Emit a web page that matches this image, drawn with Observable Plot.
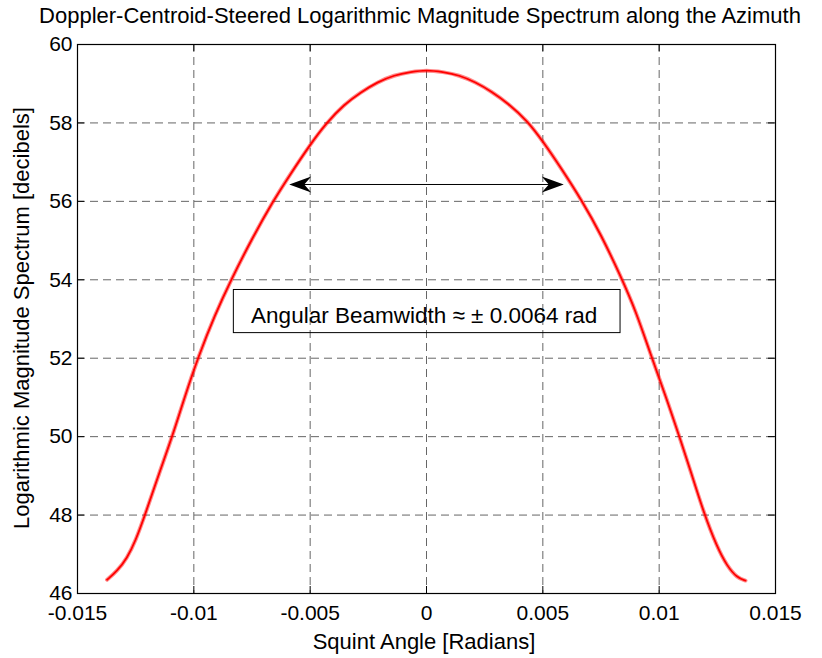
<!DOCTYPE html>
<html>
<head>
<meta charset="utf-8">
<script src="https://cdn.jsdelivr.net/npm/d3@7"></script>
<script src="https://cdn.jsdelivr.net/npm/@observablehq/plot@0.6"></script>
<style>
  body { margin: 0; background: #fff; }
  svg text { font-family: "Liberation Sans", Arial, sans-serif; }
</style>
</head>
<body>
<div id="chart"></div>
<script>
// Squint angle (radians) and magnitude (dB)
const squintAngle = [-0.01373, -0.01330, -0.01287, -0.01250, -0.01210, -0.01150, -0.01090, -0.01040, -0.00980,
  -0.00910, -0.00840, -0.00750, -0.00660, -0.00590, -0.00500, -0.00430, -0.00354, -0.00283, -0.00211,
  -0.00139, -0.00067, 0.00000, 0.00070, 0.00140, 0.00210, 0.00280, 0.00350, 0.00433, 0.00504, 0.00576,
  0.00670, 0.00750, 0.00834, 0.00900, 0.00963, 0.01030, 0.01084, 0.01135, 0.01192, 0.01249, 0.01292,
  0.01335, 0.01371];
const magnitudeDb = [46.35, 46.57, 46.90, 47.35, 48.00, 49.05, 50.05, 51.00, 52.05,
  53.10, 54.00, 55.05, 56.00, 56.65, 57.45, 58.00, 58.47, 58.78, 59.04,
  59.22, 59.30, 59.35, 59.30, 59.22, 59.04, 58.80, 58.50, 58.06, 57.50, 56.87,
  56.00, 55.15, 54.10, 53.20, 52.10, 51.00, 50.05, 49.13, 48.05, 47.18, 46.70,
  46.40, 46.33];

const xTicks = [-0.015, -0.01, -0.005, 0, 0.005, 0.01, 0.015];
const xTickLabels = ["-0.015", "-0.01", "-0.005", "0", "0.005", "0.01", "0.015"];
const yTicks = [46, 48, 50, 52, 54, 56, 58, 60];
const yTickLabels = ["46", "48", "50", "52", "54", "56", "58", "60"];

const beamArrow = [{x1: -0.0059, x2: 0.0059, y: 56.43}];
const annotationBox = [{x1: -0.00828, x2: 0.00834, y1: 52.64, y2: 53.74}];
const annotationText = [{x: -0.0001, y: 53.08, label: "Angular Beamwidth \u2248 \u00B1 0.0064 rad"}];

const titleText = "Doppler-Centroid-Steered Logarithmic Magnitude Spectrum along the Azimuth";
const xLabel = "Squint Angle [Radians]";
const yLabel = "Logarithmic Magnitude Spectrum [decibels]";

const curve = squintAngle.map((x, i) => ({x, y: magnitudeDb[i]}));

// custom filled arrowhead symbol (pointing right, tip at origin)
const arrowHead = {
  draw(ctx, size) {
    const L = 22, H = 8, N = 7;
    ctx.moveTo(0, 0);
    ctx.lineTo(-L, -H);
    ctx.lineTo(-L + N, 0);
    ctx.lineTo(-L, H);
    ctx.closePath();
  }
};
const heads = [
  {x: beamArrow[0].x2, y: beamArrow[0].y, r: 0},
  {x: beamArrow[0].x1, y: beamArrow[0].y, r: 180}
];

const W = 822, H = 658;
const mL = 77, mR = 47, mT = 44, mB = 65;
const innerH = H - mT - mB, innerW = W - mL - mR;
const tickLen = 7;
const gridDash = "8,5";

const plot = Plot.plot({
  width: W,
  height: H,
  marginLeft: mL,
  marginRight: mR,
  marginTop: mT,
  marginBottom: mB,
  x: {domain: [-0.015, 0.015], axis: null},
  y: {domain: [46, 60], axis: null},
  style: {fontFamily: "Liberation Sans, Arial, sans-serif", background: "#fff"},
  marks: [
    // grid
    Plot.ruleX(xTicks.slice(1, -1), {stroke: "#666", strokeWidth: 1, strokeDasharray: gridDash}),
    Plot.ruleY(yTicks.slice(1, -1), {stroke: "#666", strokeWidth: 1, strokeDasharray: gridDash}),
    // inward ticks
    Plot.ruleX(xTicks, {stroke: "#000", insetTop: innerH - tickLen}),
    Plot.ruleX(xTicks, {stroke: "#000", insetBottom: innerH - tickLen}),
    Plot.ruleY(yTicks, {stroke: "#000", insetRight: innerW - tickLen}),
    Plot.ruleY(yTicks, {stroke: "#000", insetLeft: innerW - tickLen}),
    // curve
    Plot.line(curve, {x: "x", y: "y", stroke: "#ff0000", strokeWidth: 4, curve: "basis", strokeOpacity: 0.45}),
    Plot.line(curve, {x: "x", y: "y", stroke: "#ff0000", strokeWidth: 1.8, curve: "basis"}),
    // arrow
    Plot.ruleY(beamArrow, {x1: "x1", x2: "x2", y: "y", stroke: "#000", strokeWidth: 1, insetLeft: 10, insetRight: 10}),
    Plot.dot(heads, {x: "x", y: "y", rotate: "r", symbol: arrowHead, fill: "#000", stroke: "none", r: 10}),
    // annotation box
    Plot.rect(annotationBox, {x1: "x1", x2: "x2", y1: "y1", y2: "y2", fill: "none", stroke: "#000", strokeWidth: 1}),
    Plot.text(annotationText, {x: "x", y: "y", text: "label", fontSize: 22.5, fill: "#000", textAnchor: "middle"}),
    // tick labels
    Plot.axisX(xTicks, {anchor: "bottom", tickSize: 0, tickPadding: 12, fontSize: 21, tickFormat: (d, i) => xTickLabels[i], label: null, fill: "#000"}),
    Plot.axisY(yTicks, {anchor: "left", tickSize: 0, tickPadding: 5, fontSize: 21, tickFormat: (d, i) => yTickLabels[i], label: null, fill: "#000"}),
    // frame
    Plot.frame({stroke: "#000", strokeWidth: 1.2})
  ]
});

const svg = d3.select(plot);
svg.append("text").attr("x", 420).attr("y", 23).attr("text-anchor", "middle")
  .attr("font-size", 22).attr("fill", "#000").text(titleText);
svg.append("text").attr("x", 424).attr("y", 649).attr("text-anchor", "middle")
  .attr("font-size", 22).attr("fill", "#000").text(xLabel);
svg.append("text").attr("transform", "translate(29,318) rotate(-90)").attr("text-anchor", "middle")
  .attr("font-size", 22).attr("fill", "#000").text(yLabel);

document.getElementById("chart").appendChild(plot);
</script>
</body>
</html>
